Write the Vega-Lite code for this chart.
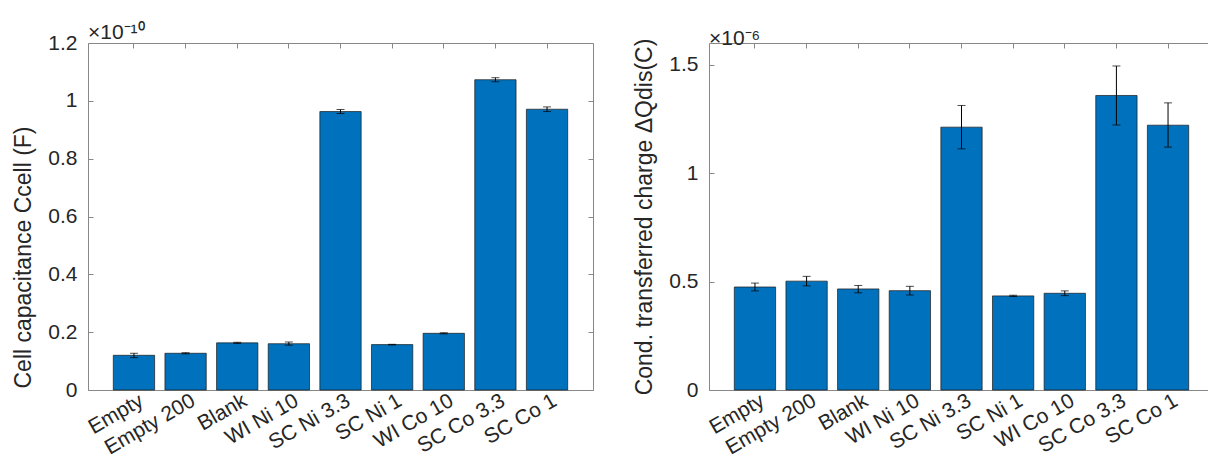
{
  "$schema": "https://vega.github.io/schema/vega-lite/v6.json",
  "background": "white",
  "padding": {"left": 12, "top": 21, "right": 0, "bottom": 0},
  "bounds": "flush",
  "spacing": 116,
  "config": {
    "font": "Liberation Sans",
    "view": {"stroke": "#888888", "strokeWidth": 1},
    "axis": {
      "domain": false,
      "grid": false,
      "tickColor": "#888888",
      "tickSize": -5,
      "labelColor": "#262626",
      "titleColor": "#262626",
      "labelFont": "Liberation Sans",
      "titleFont": "Liberation Sans",
      "labelFontSize": 21,
      "titleFontSize": 23,
      "titleFontWeight": "normal"
    },
    "title": {"font": "Liberation Sans", "fontWeight": "normal", "color": "#262626", "fontSize": 21}
  },
  "datasets": {
    "main": [
      {"cat": "Empty", "cap": 0.120, "capLo": 0.112, "capHi": 0.127, "q": 0.475, "qLo": 0.457, "qHi": 0.493},
      {"cat": "Empty 200", "cap": 0.127, "capLo": 0.125, "capHi": 0.129, "q": 0.502, "qLo": 0.480, "qHi": 0.524},
      {"cat": "Blank", "cap": 0.163, "capLo": 0.161, "capHi": 0.165, "q": 0.466, "qLo": 0.448, "qHi": 0.482},
      {"cat": "WI Ni 10", "cap": 0.160, "capLo": 0.155, "capHi": 0.166, "q": 0.458, "qLo": 0.438, "qHi": 0.478},
      {"cat": "SC Ni 3.3", "cap": 0.963, "capLo": 0.956, "capHi": 0.970, "q": 1.212, "qLo": 1.112, "qHi": 1.312},
      {"cat": "SC Ni 1", "cap": 0.157, "capLo": 0.156, "capHi": 0.158, "q": 0.434, "qLo": 0.431, "qHi": 0.437},
      {"cat": "WI Co 10", "cap": 0.196, "capLo": 0.194, "capHi": 0.198, "q": 0.446, "qLo": 0.435, "qHi": 0.457},
      {"cat": "SC Co 3.3", "cap": 1.073, "capLo": 1.066, "capHi": 1.080, "q": 1.358, "qLo": 1.222, "qHi": 1.494},
      {"cat": "SC Co 1", "cap": 0.971, "capLo": 0.963, "capHi": 0.979, "q": 1.221, "qLo": 1.120, "qHi": 1.324}
    ]
  },
  "hconcat": [
    {
      "width": 505,
      "height": 347,
      "title": {"text": "×10⁻¹⁰", "anchor": "start", "frame": "group", "offset": -11},
      "data": {"name": "main"},
      "layer": [
        {
          "mark": {"type": "bar", "color": "#0072BD", "stroke": "#1a1a1a", "strokeWidth": 0.7},
          "encoding": {
            "x": {"field": "cat", "type": "nominal", "sort": null,
                  "scale": {"paddingInner": 0.2, "paddingOuter": 0.49},
                  "axis": {"title": null, "labelAngle": -30, "labelAlign": "right", "labelBaseline": "middle", "labelPadding": 14, "labelOffset": 8}},
            "y": {"field": "cap", "type": "quantitative",
                  "scale": {"domain": [0, 1.2], "nice": false},
                  "axis": {"title": "Cell capacitance Ccell (F)", "values": [0, 0.2, 0.4, 0.6, 0.8, 1, 1.2], "format": "~g", "labelPadding": 16, "titlePadding": 12, "titleY": 214}}
          }
        },
        {
          "mark": {"type": "errorbar", "ticks": true, "size": 8, "thickness": 1, "color": "black"},
          "encoding": {
            "x": {"field": "cat", "type": "nominal", "sort": null, "axis": null},
            "y": {"field": "capLo", "type": "quantitative", "axis": null},
            "y2": {"field": "capHi"}
          }
        },
        {
          "mark": {"type": "bar", "opacity": 0},
          "encoding": {
            "x": {"field": "cat", "type": "nominal", "sort": null,
                  "axis": {"orient": "top", "labels": false, "title": null}},
            "y": {"field": "cap", "type": "quantitative",
                  "axis": {"orient": "right", "labels": false, "title": null, "values": [0, 0.2, 0.4, 0.6, 0.8, 1, 1.2]}}
          }
        }
      ],
      "resolve": {"axis": {"x": "independent", "y": "independent"}}
    },
    {
      "width": 505,
      "height": 347,
      "title": {"text": "×10⁻⁶", "anchor": "start", "frame": "group", "offset": -11},
      "data": {"name": "main"},
      "layer": [
        {
          "mark": {"type": "bar", "color": "#0072BD", "stroke": "#1a1a1a", "strokeWidth": 0.7},
          "encoding": {
            "x": {"field": "cat", "type": "nominal", "sort": null,
                  "scale": {"paddingInner": 0.2, "paddingOuter": 0.49},
                  "axis": {"title": null, "labelAngle": -30, "labelAlign": "right", "labelBaseline": "middle", "labelPadding": 14, "labelOffset": 8}},
            "y": {"field": "q", "type": "quantitative",
                  "scale": {"domain": [0, 1.6], "nice": false},
                  "axis": {"title": "Cond. transferred charge ΔQdis(C)", "values": [0, 0.5, 1, 1.5], "format": "~g", "labelPadding": 16, "titlePadding": 12}}
          }
        },
        {
          "mark": {"type": "errorbar", "ticks": true, "size": 8, "thickness": 1, "color": "black"},
          "encoding": {
            "x": {"field": "cat", "type": "nominal", "sort": null, "axis": null},
            "y": {"field": "qLo", "type": "quantitative", "axis": null},
            "y2": {"field": "qHi"}
          }
        },
        {
          "mark": {"type": "bar", "opacity": 0},
          "encoding": {
            "x": {"field": "cat", "type": "nominal", "sort": null,
                  "axis": {"orient": "top", "labels": false, "title": null}},
            "y": {"field": "q", "type": "quantitative",
                  "axis": {"orient": "right", "labels": false, "title": null, "values": [0, 0.5, 1, 1.5]}}
          }
        }
      ],
      "resolve": {"axis": {"x": "independent", "y": "independent"}}
    }
  ]
}
